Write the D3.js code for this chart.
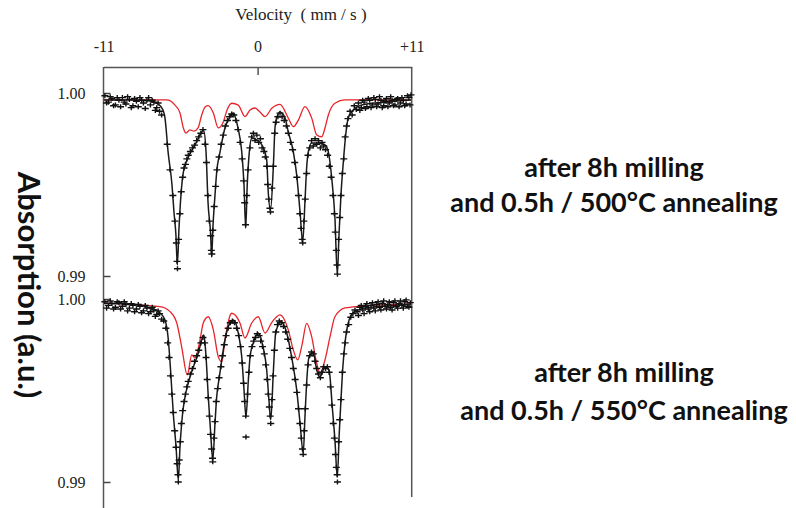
<!DOCTYPE html>
<html>
<head>
<meta charset="utf-8">
<script src="https://cdn.jsdelivr.net/npm/d3@7"></script>
<style>
  body { margin: 0; background: #fff; }
  svg { display: block; }
</style>
</head>
<body>
<div id="chart"></div>
<script>

// velocity ticks on top axis
var aVelTicks = [-11, 0, 11];
var aAbsTicks = [0.99, 1.00];

var aLabels = [
    ["after 8h milling", "and 0.5h / 500°C annealing"],
    ["after 8h milling", "and 0.5h / 550°C annealing"]
];

// ---- 500°C : fit (black) and sub-spectrum (red), [velocity mm/s, absorption]
var aFit500 = [
    [-10.96,0.99962],[-9.11,0.99962],[-7.68,0.99956],[-7.11,0.99940],[-6.75,0.99907],
    [-6.61,0.99863],[-6.39,0.99678],[-6.11,0.99497],[-5.97,0.99350],[-5.83,0.99224],
    [-5.73,0.99060],[-5.61,0.99262],[-5.47,0.99443],[-5.30,0.99568],[-4.97,0.99645],
    [-4.47,0.99716],[-3.99,0.99787],[-3.86,0.99798],[-3.68,0.99678],[-3.54,0.99404],
    [-3.35,0.99224],[-3.28,0.99104],[-3.18,0.99279],[-3.04,0.99443],[-2.92,0.99568],
    [-2.68,0.99678],[-2.33,0.99809],[-1.97,0.99869],[-1.76,0.99891],[-1.40,0.99809],
    [-1.13,0.99678],[-0.97,0.99497],[-0.85,0.99262],[-0.74,0.99497],[-0.59,0.99678],
    [-0.42,0.99754],[-0.06,0.99743],[0.39,0.99705],[0.65,0.99634],[0.76,0.99459],
    [0.92,0.99361],[1.12,0.99590],[1.24,0.99809],[1.36,0.99863],[1.60,0.99896],
    [1.96,0.99863],[2.19,0.99787],[2.55,0.99678],[2.79,0.99552],[3.03,0.99350],
    [3.22,0.99186],[3.38,0.99404],[3.50,0.99590],[3.62,0.99678],[3.86,0.99727],
    [4.33,0.99727],[4.81,0.99716],[5.05,0.99678],[5.29,0.99536],[5.52,0.99317],
    [5.69,0.99006],[5.81,0.99224],[5.95,0.99443],[6.12,0.99623],[6.29,0.99771],
    [6.47,0.99863],[6.83,0.99907],[7.43,0.99934],[9.31,0.99951],[10.95,0.99962]
];
var aSub500 = [
    [-10.96,0.99962],[-6.49,0.99962],[-5.90,0.99934],[-5.54,0.99891],[-5.30,0.99809],
    [-5.11,0.99781],[-4.83,0.99798],[-4.54,0.99792],[-4.25,0.99809],[-3.99,0.99880],
    [-3.75,0.99924],[-3.52,0.99931],[-3.16,0.99891],[-2.81,0.99809],[-2.45,0.99842],
    [-2.18,0.99907],[-1.85,0.99944],[-1.38,0.99934],[-0.90,0.99871],[-0.54,0.99907],
    [-0.19,0.99918],[0.17,0.99896],[0.53,0.99871],[1.03,0.99918],[1.60,0.99938],
    [2.19,0.99863],[2.55,0.99816],[2.91,0.99852],[3.38,0.99925],[3.86,0.99863],
    [4.22,0.99771],[4.58,0.99761],[4.81,0.99809],[5.05,0.99880],[5.52,0.99944],
    [6.24,0.99962],[10.95,0.99962]
];
var aPts500 = [
    [-10.9,0.99985],[-10.78,0.99945],[-10.65,0.99950],[-10.52,0.99980],[-10.4,0.99970],
    [-10.28,0.99930],[-10.15,0.99935],[-10.02,0.99975],[-9.9,0.99960],[-9.78,0.99925],
    [-9.65,0.99975],[-9.52,0.99950],[-9.4,0.99940],[-9.28,0.99980],[-9.15,0.99965],
    [-9.02,0.99920],[-8.9,0.99930],[-8.78,0.99970],[-8.65,0.99955],[-8.52,0.99925],
    [-8.4,0.99975],[-8.28,0.99960],[-8.15,0.99945],[-8.02,0.99915],[-7.9,0.99960],
    [-7.78,0.99975],[-7.65,0.99935],[-7.52,0.99960],[-7.4,0.99950],[-7.3,0.99905],
    [-7.2,0.99920],[-7.1,0.99945],[-7.0,0.99900],[-6.85,0.99880],[-6.45,0.99720],
    [-6.25,0.99580],
    [-6.05,0.99440],[-5.9,0.99300],[-5.8,0.99180],[-5.75,0.99080],[-5.72,0.99040],
    [-5.64,0.99200],[-5.55,0.99340],[-5.45,0.99460],[-5.35,0.99540],[-5.25,0.99590],
    [-5.15,0.99610],[-5.05,0.99640],[-4.95,0.99660],[-4.8,0.99680],[-4.65,0.99700],
    [-4.5,0.99715],[-4.35,0.99740],[-4.2,0.99760],[-4.05,0.99780],[-3.9,0.99800],
    [-3.75,0.99720],[-3.65,0.99620],[-3.55,0.99440],[-3.45,0.99300],[-3.35,0.99220],
    [-3.3,0.99140],[-3.27,0.99120],[-3.2,0.99250],[-3.1,0.99380],[-3.0,0.99490],
    [-2.9,0.99580],[-2.75,0.99650],[-2.6,0.99720],[-2.45,0.99770],[-2.3,0.99820],
    [-2.15,0.99850],[-2.0,0.99870],[-1.85,0.99885],[-1.7,0.99880],[-1.55,0.99850],
    [-1.4,0.99800],[-1.25,0.99730],[-1.1,0.99640],[-1.0,0.99520],[-0.92,0.99400],
    [-0.86,0.99280],[-0.78,0.99440],[-0.68,0.99580],[-0.55,0.99700],[-0.42,0.99760],
    [-0.3,0.99780],[-0.18,0.99740],[-0.05,0.99770],[0.08,0.99730],[0.2,0.99750],
    [0.32,0.99700],[0.45,0.99680],[0.55,0.99650],[0.65,0.99600],[0.72,0.99500],
    [0.8,0.99420],[0.88,0.99370],[0.92,0.99350],[1.02,0.99480],[1.12,0.99600],
    [1.22,0.99780],[1.32,0.99840],[1.45,0.99870],[1.6,0.99890],[1.75,0.99870],
    [1.9,0.99850],[2.05,0.99820],[2.2,0.99780],[2.35,0.99730],[2.5,0.99690],
    [2.65,0.99620],[2.8,0.99540],[2.92,0.99440],[3.02,0.99340],[3.1,0.99260],
    [3.18,0.99200],[3.22,0.99180],[3.3,0.99300],[3.4,0.99420],[3.5,0.99560],
    [3.6,0.99660],[3.72,0.99700],[3.85,0.99740],[3.98,0.99710],[4.1,0.99750],
    [4.22,0.99720],[4.35,0.99740],[4.48,0.99700],[4.6,0.99730],[4.72,0.99710],
    [4.85,0.99690],[5.0,0.99660],[5.12,0.99600],[5.25,0.99540],[5.38,0.99440],
    [5.48,0.99340],[5.55,0.99240],[5.62,0.99140],[5.67,0.99060],[5.7,0.99010],
    [5.78,0.99200],[5.86,0.99320],[5.95,0.99440],[6.05,0.99560],[6.15,0.99640],
    [6.25,0.99760],[6.35,0.99820],[6.45,0.99860],[6.6,0.99900],[6.75,0.99880],
    [6.9,0.99930],[7.05,0.99910],[7.2,0.99945],[7.3,0.99905],[7.4,0.99920],
    [7.5,0.99960],[7.6,0.99950],[7.7,0.99915],[7.8,0.99925],[7.9,0.99970],
    [8.0,0.99960],[8.1,0.99920],[8.2,0.99935],[8.3,0.99975],[8.4,0.99965],
    [8.5,0.99925],[8.6,0.99940],[8.7,0.99980],[8.8,0.99960],[8.9,0.99920],
    [9.0,0.99930],[9.1,0.99955],[9.2,0.99970],[9.3,0.99925],[9.4,0.99945],
    [9.5,0.99980],[9.6,0.99960],[9.7,0.99930],[9.8,0.99935],[9.9,0.99965],
    [10.0,0.99970],[10.1,0.99925],[10.2,0.99945],[10.3,0.99975],[10.4,0.99960],
    [10.5,0.99930],[10.6,0.99940],[10.7,0.99985],[10.8,0.99975],[10.88,0.99935],
    [10.95,0.99990]
];

// ---- 550°C
var aFit550 = [
    [-10.96,0.99977],[-9.11,0.99973],[-7.68,0.99951],[-6.97,0.99924],[-6.61,0.99885],
    [-6.37,0.99776],[-6.20,0.99596],[-6.02,0.99377],[-5.82,0.99191],[-5.66,0.99011],
    [-5.54,0.99191],[-5.35,0.99377],[-5.18,0.99465],[-4.95,0.99541],[-4.59,0.99628],
    [-4.23,0.99705],[-3.99,0.99776],[-3.83,0.99803],[-3.68,0.99683],[-3.52,0.99465],
    [-3.35,0.99268],[-3.20,0.99120],[-3.04,0.99322],[-2.92,0.99465],[-2.73,0.99574],
    [-2.56,0.99667],[-2.33,0.99776],[-1.97,0.99869],[-1.73,0.99885],[-1.38,0.99814],
    [-1.13,0.99683],[-0.97,0.99503],[-0.83,0.99355],[-0.66,0.99557],[-0.54,0.99683],
    [-0.31,0.99760],[0.05,0.99814],[0.39,0.99738],[0.65,0.99612],[0.81,0.99448],
    [0.94,0.99339],[1.12,0.99596],[1.29,0.99814],[1.67,0.99876],[2.08,0.99814],
    [2.43,0.99683],[2.79,0.99503],[3.03,0.99322],[3.26,0.99159],[3.38,0.99355],
    [3.50,0.99541],[3.67,0.99683],[3.98,0.99705],[4.22,0.99612],[4.45,0.99574],
    [4.81,0.99628],[5.10,0.99612],[5.33,0.99410],[5.52,0.99230],[5.69,0.99027],
    [5.83,0.99268],[5.95,0.99448],[6.07,0.99612],[6.24,0.99760],[6.47,0.99869],
    [6.83,0.99924],[7.67,0.99951],[9.33,0.99962],[10.95,0.99973]
];
var aSub550 = [
    [-10.96,0.99978],[-6.97,0.99958],[-6.25,0.99931],[-5.77,0.99869],[-5.42,0.99739],
    [-5.02,0.99585],[-4.70,0.99694],[-4.47,0.99678],[-4.11,0.99776],[-3.88,0.99869],
    [-3.52,0.99903],[-3.16,0.99831],[-2.81,0.99685],[-2.56,0.99657],[-2.33,0.99776],
    [-1.85,0.99922],[-1.26,0.99869],[-0.90,0.99787],[-0.42,0.99869],[0.05,0.99903],
    [0.53,0.99814],[1.03,0.99874],[1.60,0.99913],[2.19,0.99831],[2.55,0.99721],
    [2.86,0.99667],[3.17,0.99749],[3.50,0.99867],[3.86,0.99794],[4.17,0.99667],
    [4.45,0.99596],[4.81,0.99667],[5.17,0.99794],[5.52,0.99903],[6.24,0.99951],
    [7.67,0.99962],[10.95,0.99973]
];
var aPts550 = [
    [-10.9,0.99985],[-10.78,0.99950],[-10.65,0.99965],[-10.52,0.99990],[-10.4,0.99975],
    [-10.28,0.99945],[-10.15,0.99955],[-10.02,0.99985],[-9.9,0.99980],[-9.78,0.99945],
    [-9.65,0.99960],[-9.52,0.99985],[-9.4,0.99970],[-9.28,0.99935],[-9.15,0.99950],
    [-9.02,0.99975],[-8.9,0.99965],[-8.78,0.99930],[-8.65,0.99945],[-8.52,0.99970],
    [-8.4,0.99960],[-8.28,0.99925],[-8.15,0.99935],[-8.02,0.99965],[-7.9,0.99950],
    [-7.78,0.99920],[-7.65,0.99930],[-7.52,0.99955],[-7.4,0.99940],[-7.3,0.99905],
    [-7.2,0.99915],[-7.1,0.99935],[-7.0,0.99920],[-6.85,0.99890],[-6.7,0.99880],
    [-6.55,0.99840],
    [-6.42,0.99760],[-6.32,0.99680],[-6.22,0.99580],[-6.12,0.99480],[-6.02,0.99380],
    [-5.92,0.99280],[-5.82,0.99190],[-5.74,0.99100],[-5.68,0.99040],[-5.66,0.99000],
    [-5.6,0.99120],[-5.52,0.99220],[-5.44,0.99320],[-5.35,0.99390],[-5.25,0.99440],
    [-5.15,0.99480],[-5.05,0.99520],[-4.95,0.99550],[-4.8,0.99590],[-4.65,0.99620],
    [-4.5,0.99660],[-4.35,0.99690],[-4.2,0.99720],[-4.05,0.99760],[-3.9,0.99790],
    [-3.78,0.99760],[-3.68,0.99680],[-3.6,0.99560],[-3.52,0.99460],[-3.44,0.99360],
    [-3.36,0.99260],[-3.28,0.99180],[-3.22,0.99130],[-3.2,0.99110],[-3.12,0.99240],
    [-3.04,0.99330],[-2.95,0.99440],[-2.85,0.99510],[-2.75,0.99570],[-2.62,0.99630],
    [-2.5,0.99690],[-2.38,0.99750],[-2.25,0.99800],[-2.1,0.99840],[-1.95,0.99870],
    [-1.8,0.99880],[-1.65,0.99870],[-1.5,0.99840],[-1.35,0.99800],[-1.22,0.99740],
    [-1.1,0.99650],[-1.0,0.99540],[-0.92,0.99440],[-0.85,0.99360],[-0.83,0.99246],
    [-0.72,0.99480],[-0.62,0.99600],[-0.52,0.99690],[-0.4,0.99740],[-0.28,0.99770],
    [-0.15,0.99790],[-0.02,0.99810],[0.1,0.99800],[0.22,0.99770],[0.35,0.99740],
    [0.48,0.99700],[0.58,0.99640],[0.68,0.99560],[0.76,0.99480],[0.84,0.99410],
    [0.9,0.99360],[0.94,0.99320],[1.02,0.99450],[1.1,0.99580],[1.2,0.99720],
    [1.3,0.99820],[1.42,0.99860],[1.55,0.99880],[1.7,0.99870],[1.85,0.99850],
    [2.0,0.99820],[2.15,0.99780],[2.3,0.99730],[2.42,0.99680],[2.55,0.99620],
    [2.68,0.99560],[2.8,0.99490],[2.92,0.99400],[3.02,0.99320],[3.12,0.99240],
    [3.2,0.99180],[3.25,0.99150],[3.32,0.99280],[3.4,0.99400],[3.5,0.99530],
    [3.6,0.99640],[3.72,0.99690],[3.85,0.99710],[3.98,0.99700],[4.1,0.99660],
    [4.22,0.99620],[4.35,0.99590],[4.48,0.99570],[4.6,0.99600],[4.72,0.99630],
    [4.85,0.99620],[4.98,0.99630],[5.1,0.99600],[5.2,0.99520],[5.3,0.99420],
    [5.4,0.99320],[5.48,0.99240],[5.56,0.99150],[5.62,0.99080],[5.68,0.99040],
    [5.7,0.99000],[5.78,0.99220],[5.86,0.99340],[5.95,0.99450],[6.05,0.99600],
    [6.15,0.99700],[6.25,0.99760],[6.35,0.99820],[6.5,0.99860],[6.65,0.99900],
    [6.8,0.99920],[6.95,0.99940],[7.1,0.99930],[7.2,0.99910],[7.3,0.99955],
    [7.4,0.99965],[7.5,0.99940],[7.6,0.99920],[7.7,0.99960],[7.8,0.99975],
    [7.9,0.99945],[8.0,0.99930],[8.1,0.99965],[8.2,0.99980],[8.3,0.99950],
    [8.4,0.99935],[8.5,0.99970],[8.6,0.99985],[8.7,0.99955],[8.8,0.99940],
    [8.9,0.99975],[9.0,0.99990],[9.1,0.99960],[9.2,0.99945],[9.3,0.99970],
    [9.4,0.99985],[9.5,0.99955],[9.6,0.99940],[9.7,0.99980],[9.8,0.99990],
    [9.9,0.99960],[10.0,0.99950],[10.1,0.99975],[10.2,0.99990],[10.3,0.99965],
    [10.4,0.99950],[10.5,0.99985],[10.6,0.99995],[10.7,0.99960],[10.8,0.99955],
    [10.9,0.99980]
];

var w = 796, h = 508;
var plotLeft = 103.5, plotRight = 411.7, plotTop = 67;   // note: "top" is window.top, don't use it
var serif = "'Liberation Serif', 'Times New Roman', serif";
var sans = "Lato, 'Open Sans', sans-serif";

var svg = d3.select("#chart")
    .append("svg")
    .attr("width", w)
    .attr("height", h);

var x = d3.scaleLinear().domain([-11, 11]).range([plotLeft, plotRight]);

// one panel per annealing temp, same height
var panels = [
    { fit: aFit500, sub: aSub500, pts: aPts500, y: d3.scaleLinear().domain([0.99, 1.00]).range([276, 93]) },
    { fit: aFit550, sub: aSub550, pts: aPts550, y: d3.scaleLinear().domain([0.99, 1.00]).range([482, 299]) }
];

// frame
svg.append("line")
    .attr("x1", plotLeft).attr("x2", plotLeft)
    .attr("y1", plotTop).attr("y2", h)
    .attr("stroke", "#555").attr("stroke-width", 1.5);
svg.append("line")
    .attr("x1", plotRight).attr("x2", plotRight)
    .attr("y1", plotTop).attr("y2", 497)
    .attr("stroke", "#555").attr("stroke-width", 1.5);

// top velocity axis
var xAxis = d3.axisTop(x)
    .tickValues(aVelTicks)
    .tickSizeInner(-8)
    .tickSizeOuter(0)
    .tickPadding(15)
    .tickFormat(function(d) { return d > 0 ? "+" + d : d; });

var gx = svg.append("g")
    .attr("transform", "translate(0," + plotTop + ")")
    .call(xAxis);
gx.select(".domain").attr("stroke", "#555").attr("stroke-width", 1.5);
gx.selectAll(".tick line").attr("stroke", "#555").attr("stroke-width", 1.5)
    .attr("opacity", function(d) { return d === 0 ? 1 : 0; });
gx.selectAll("text")
    .attr("font-family", serif)
    .attr("font-size", "16px")
    .attr("fill", "#222");

svg.append("text")
    .text("Velocity  ( mm / s )")
    .attr("x", 301)
    .attr("y", 20)
    .attr("text-anchor", "middle")
    .attr("font-family", serif)
    .attr("font-size", "17px")
    .attr("fill", "#222")
    .style("white-space", "pre");

var line = d3.line()
    .x(function(d) { return x(d[0]); })
    .curve(d3.curveMonotoneX);

panels.forEach(function(p, i) {
    var yAxis = d3.axisLeft(p.y)
        .tickValues(aAbsTicks)
        .tickSizeInner(-7)
        .tickSizeOuter(0)
        .tickPadding(18)
        .tickFormat(d3.format(".2f"));

    var gy = svg.append("g")
        .attr("transform", "translate(" + plotLeft + ",0)")
        .call(yAxis);
    gy.select(".domain").remove();
    gy.selectAll(".tick line").attr("stroke", "#444").attr("stroke-width", 1.5);
    gy.selectAll("text")
        .attr("font-family", serif)
        .attr("font-size", "16px")
        .attr("fill", "#222");

    line.y(function(d) { return p.y(d[1]); });

    svg.append("path")
        .datum(p.sub)
        .attr("d", line)
        .attr("fill", "none")
        .attr("stroke", "#e8242a")
        .attr("stroke-width", 1.3);

    svg.append("path")
        .datum(p.fit)
        .attr("d", line)
        .attr("fill", "none")
        .attr("stroke", "#1a1a1a")
        .attr("stroke-width", 1.5);

    svg.append("g")
        .selectAll("path")
        .data(p.pts)
        .enter()
        .append("path")
        .attr("transform", function(d) { return "translate(" + x(d[0]) + "," + p.y(d[1]) + ")"; })
        .attr("d", "M-3.5,0H3.5M0,-2.5V2.5")
        .attr("stroke", "#111")
        .attr("stroke-width", 1.4);
});

// y title, reads top to bottom
svg.append("text")
    .text("Absorption (a.u.)")
    .attr("transform", "translate(18,285) rotate(90)")
    .attr("text-anchor", "middle")
    .attr("font-family", sans)
    .attr("font-weight", "bold")
    .attr("font-size", "31px")
    .attr("fill", "#111");

// sample labels on the right
var labelPos = [[614, 177], [624, 382]];
var labelGap = [35, 38];
aLabels.forEach(function(lines, i) {
    svg.append("text")
        .attr("text-anchor", "middle")
        .attr("font-family", sans)
        .attr("font-weight", "bold")
        .attr("font-size", "27px")
        .attr("fill", "#111")
        .selectAll("tspan")
        .data(lines)
        .enter()
        .append("tspan")
        .attr("x", labelPos[i][0])
        .attr("y", function(d, j) { return labelPos[i][1] + j * labelGap[i]; })
        .text(function(d) { return d; });
});

</script>
</body>
</html>
